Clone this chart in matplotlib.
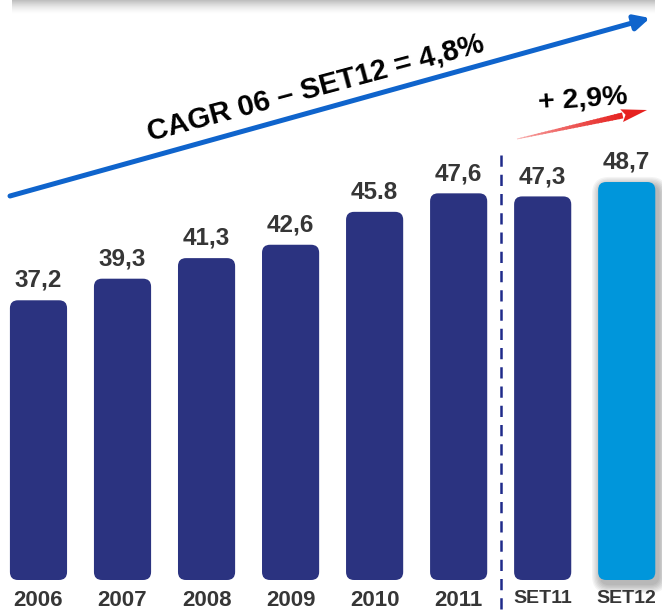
import matplotlib
matplotlib.use("Agg")
import matplotlib.pyplot as plt
from matplotlib.patches import FancyBboxPatch, FancyArrowPatch, Polygon, Rectangle
import numpy as np

categories = ["2006", "2007", "2008", "2009", "2010", "2011", "SET11", "SET12"]
values = [37.2, 39.3, 41.3, 42.6, 45.8, 47.6, 47.3, 48.7]
value_labels = ["37,2", "39,3", "41,3", "42,6", "45.8", "47,6", "47,3", "48,7"]
cagr_text = "CAGR 06 \u2013 SET12 = 4,8%"
growth_text = "+ 2,9%"

NAVY = "#2B3380"
LIGHT = "#0096DB"
TXT = "#363636"
W, H = 662, 612

plt.rcParams['font.family'] = ['Liberation Sans', 'DejaVu Sans']
fig = plt.figure(figsize=(W / 100, H / 100), dpi=100)
fig.patch.set_facecolor("white")

def px(x, y):
    return (x / W, 1 - y / H)

ax = fig.add_axes([0, 32 / H, 1, 580 / H])
ax.set_xlim(-0.458, 7.42)
ax.set_ylim(10.0, 66.4)
ax.axis("off")

xs = np.arange(len(categories))
colors = [NAVY] * 7 + [LIGHT]
bars = ax.bar(xs, values, width=0.68, bottom=0, color=colors)

# px per data unit
sx = W / (7.42 + 0.458)
sy = 580 / (66.4 - 10.0)
r_px = 8
for i, b in enumerate(bars):
    x0, w = b.get_x(), b.get_width()
    y0 = ax.get_ylim()[0]
    h = b.get_height() - y0
    b.remove()
    if i == len(bars) - 1:
        # soft shadow
        for k in range(7):
            d = (k + 1) * 1.3
            sh = FancyBboxPatch((x0 + 3 / sx - d / sx, y0 - 4 / sy - d / sy), w + 2 * d / sx, h + 2 * d / sy,
                                boxstyle=f"round,pad=0,rounding_size={(r_px + d) / sx}",
                                mutation_aspect=sx / sy, facecolor="#000000", alpha=0.045,
                                edgecolor="none", clip_on=False)
            ax.add_patch(sh)
    p = FancyBboxPatch((x0, y0), w, h,
                       boxstyle=f"round,pad=0,rounding_size={r_px / sx}",
                       mutation_aspect=sx / sy, facecolor=colors[i], edgecolor="none",
                       clip_on=False)
    ax.add_patch(p)
    ax.annotate(value_labels[i], (xs[i], values[i]), xytext=(0, 6), textcoords="offset points",
                ha="center", va="bottom", fontsize=17.5, fontweight="bold", color=TXT)

for i, c in enumerate(categories):
    fs = 16 if c.isdigit() else 14
    ax.text(xs[i], 10.0 - 10 / sy, c, ha="center", va="top", fontsize=fs,
            fontweight="bold", color=TXT, clip_on=False)

# dashed separator
ax.plot([5.5, 5.5], [10.0 + (580 - 155) / sy, 10.0 - 34 / sy], color="#1F2A8A", lw=1.8,
        dashes=(4.5, 3.2), clip_on=False)

# top gray shadow band
for k in range(14):
    a = 0.5 * (1 - k / 14) ** 1.6
    fig.patches.append(Rectangle(px(12, k + 1), (643) / W, 1 / H, transform=fig.transFigure,
                                 facecolor="#808080", alpha=a, edgecolor="none"))

# blue CAGR arrow
arr = FancyArrowPatch(px(10, 196), px(650, 18), transform=fig.transFigure,
                      arrowstyle="-|>,head_length=9,head_width=4.5", color="#0F64CC",
                      lw=3.6, shrinkA=0, shrinkB=0, mutation_scale=1)
fig.patches.append(arr)
fig.text(*px(316, 88), cagr_text, rotation=15, ha="center", va="center", fontsize=21,
         fontweight="bold", color="black", rotation_mode="anchor")

# red growth arrow (tapered, gradient)
tail = np.array([517.0, 139.0])
head_tip = np.array([647.0, 110.0])
d = head_tip - tail
L = np.hypot(*d)
u = d / L
n = np.array([u[1], -u[0]])  # perpendicular
head_len = 26
shaft_end = head_tip - u * head_len
nseg = 30
c0 = np.array([0.98, 0.72, 0.72])
c1 = np.array([0.90, 0.13, 0.12])
for k in range(nseg):
    t0, t1 = k / nseg, (k + 1) / nseg
    p0 = tail + (shaft_end - tail) * t0
    p1 = tail + (shaft_end - tail) * (t1 + 0.01)
    w0 = 0.4 + 2.6 * t0
    w1 = 0.4 + 2.6 * t1
    pts = [p0 + n * w0, p1 + n * w1, p1 - n * w1, p0 - n * w0]
    col = c0 + (c1 - c0) * (t0 ** 0.7)
    fig.patches.append(Polygon([px(*q) for q in pts], closed=True, transform=fig.transFigure,
                               facecolor=col, edgecolor="none"))
hb = shaft_end + u * 4
hpts = [head_tip, shaft_end - n * 6.5, hb, shaft_end + n * 6.5]
fig.patches.append(Polygon([px(*q) for q in hpts], closed=True, transform=fig.transFigure,
                           facecolor=c1, edgecolor="none"))
fig.text(*px(583, 99), growth_text, rotation=4, ha="center", va="center", fontsize=20.5,
         fontweight="bold", color="black", rotation_mode="anchor")

fig.savefig("out.png", dpi=100, facecolor="white")
